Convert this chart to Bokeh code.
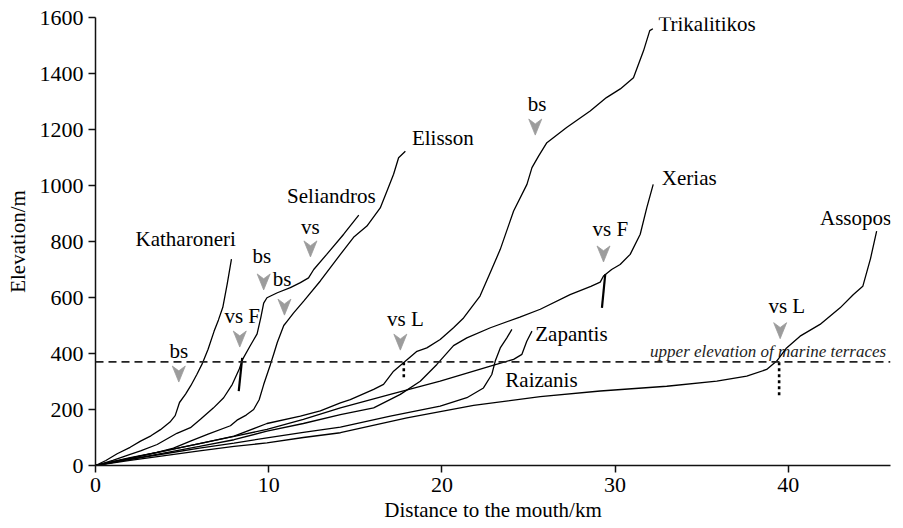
from bokeh.plotting import figure
from bokeh.models import Range1d, Span
from bokeh.embed import file_html
from bokeh.resources import INLINE
from bokeh.core.properties import value

# ---- longitudinal river profiles: distance to mouth (km) vs elevation (m) ----
katharoneri_km = [0, 0.6, 1.25, 2.0, 2.6, 3.2, 3.75, 4.3, 4.6, 4.85, 5.2, 5.5, 5.85, 6.15, 6.5, 6.85, 7.1, 7.35, 7.6, 7.85]
katharoneri_m = [0, 18, 42, 65, 87, 106, 128, 155, 178, 225, 255, 285, 325, 362, 415, 480, 520, 565, 647, 737]

seliandros_km = [0, 1.0, 2.0, 2.6, 3.56, 4.7, 5.48, 6.06, 6.8, 7.4, 7.9, 8.3, 8.5, 8.9, 9.33, 9.55, 9.71, 9.9,
                 10.5, 11.25, 11.83, 12.3, 12.6, 13.35, 14.33, 15.2]
seliandros_m = [0, 18, 40, 52, 75, 115, 135, 165, 205, 242, 290, 345, 380, 424, 470, 530, 580, 599,
                617, 635, 653, 670, 700, 754, 826, 894]

elisson_km = [0, 1.0, 2.0, 3.56, 4.5, 5.48, 6.5, 7.79, 8.17, 8.7, 9.13, 9.45, 9.71, 10.1, 10.3, 10.5, 10.87, 11.06,
              11.44, 12.02, 12.98, 14.14, 14.9, 15.67, 16.44, 16.83, 17.21, 17.5, 17.89]
elisson_m = [0, 12, 25, 47, 62, 87, 112, 142, 162, 180, 200, 235, 289, 361, 400, 440, 500, 515,
             545, 587, 659, 754, 815, 855, 920, 980, 1040, 1099, 1122]

trikalitikos_km = [0, 2, 4, 6, 8, 9.9, 11.83, 12.98, 14.14, 14.71, 16.06, 16.63, 17.21, 17.8, 18.56, 19.13, 19.9,
                   20.67, 21.25, 22.2, 22.8, 23.37, 24.14, 24.91, 25.2, 25.58, 26.06, 27.2, 28.56, 29.5, 30.3,
                   31.06, 31.64, 32.0, 32.18]
trikalitikos_m = [0, 28, 52, 78, 105, 150, 176, 195, 224, 235, 272, 290, 337, 368, 408, 420, 450,
                  492, 527, 605, 690, 772, 909, 1004, 1064, 1105, 1153, 1207, 1266, 1314, 1345,
                  1385, 1481, 1553, 1560]

xerias_km = [0, 2, 4, 6, 8, 9.9, 12, 14.14, 16.06, 17.6, 18.75, 19.71, 20.67, 21.44, 22.8, 24.5, 25.68, 27.4,
             28.6, 29.14, 29.33, 29.8, 30.29, 30.87, 31.45, 31.83, 32.2]
xerias_m = [0, 22, 45, 68, 92, 123, 150, 182, 206, 254, 301, 361, 428, 456, 492, 530, 558, 610,
            640, 655, 677, 700, 718, 754, 826, 921, 1004]

zapantis_km = [0, 2, 4, 6, 8, 9.9, 12, 14.14, 17.02, 19.9, 22.8, 24.14, 24.62, 24.9, 25.2]
zapantis_m = [0, 26, 52, 78, 104, 129, 165, 206, 254, 301, 355, 379, 397, 444, 480]

raizanis_km = [0, 2, 4, 6, 8, 9.9, 12, 14.14, 17.02, 19.9, 21.44, 22.4, 22.88, 23.08, 23.37, 23.75, 24.04]
raizanis_m = [0, 22, 42, 62, 80, 99, 118, 137, 176, 212, 242, 277, 325, 373, 420, 456, 486]

assopos_km = [0, 2, 4, 6, 8, 9.9, 12, 14.14, 17.98, 21.83, 25.68, 29.14, 32.98, 35.87, 37.6, 38.75, 39.33,
              39.9, 40.68, 41.83, 42.99, 43.76, 44.3, 44.75, 45.1]
assopos_m = [0, 18, 35, 52, 68, 81, 100, 117, 170, 215, 246, 266, 283, 301, 319, 343, 373,
             420, 462, 504, 563, 611, 640, 740, 837]

# river names and where they are written
river_names = ["Katharoneri", "Seliandros", "Elisson", "Trikalitikos", "Xerias", "Assopos", "Zapantis", "Raizanis"]
name_km = [2.31, 11.06, 18.27, 32.5, 32.7, 41.83, 25.39, 23.66]
name_m = [808, 962, 1171, 1576, 1028, 885, 468, 307]

# knickpoints: bs = bedrock step, vs F / vs L = valley step (fault / lithology)
knick_labels = ["bs", "vs F", "bs", "bs", "vs", "vs L", "bs", "vs F", "vs L"]
knick_km = [4.81, 8.33, 9.71, 10.91, 12.41, 17.6, 25.39, 29.33, 39.53]
knick_m = [298, 423, 627, 537, 745, 412, 1180, 727, 453]
knick_text_km = [4.81, 8.47, 9.6, 10.77, 12.41, 17.89, 25.49, 29.72, 39.91]
knick_text_m = [409, 534, 748, 665, 852, 525, 1292, 843, 569]

# fault crossings (solid) and lithologic contacts (dotted)
fault_km0 = [8.47, 29.43]
fault_m0 = [384, 683]
fault_km1 = [8.27, 29.24]
fault_m1 = [266, 563]
contact_km = [17.8, 39.47]
contact_top_m = [369, 369]
contact_bot_m = [308, 248]

terrace_elev = 370
x_ticks = [0, 10, 20, 30, 40]
y_ticks = [0, 200, 400, 600, 800, 1000, 1200, 1400, 1600]

X_MAX, Y_MAX = 45.9, 1600
W, H = 903, 528
LEFT, RIGHT, TOP, BOTTOM = 95, 13, 17, 63
SERIF = "Liberation Serif"

p = figure(width=W, height=H, output_backend="svg", toolbar_location=None,
           x_range=Range1d(0, X_MAX), y_range=Range1d(0, Y_MAX),
           min_border_left=LEFT, min_border_right=RIGHT, min_border_top=TOP, min_border_bottom=BOTTOM)
p.outline_line_color = None
p.grid.visible = False

for ax in (p.xaxis[0], p.yaxis[0]):
    ax.major_label_text_font = SERIF
    ax.major_label_text_font_size = "22px"
    ax.major_label_text_color = "black"
    ax.axis_label_text_font = SERIF
    ax.axis_label_text_font_size = "21px"
    ax.axis_label_text_font_style = "normal"
    ax.axis_label_text_color = "black"
    ax.axis_line_width = 1.5
    ax.axis_line_color = "#111111"
    ax.major_tick_line_width = 1.5
    ax.major_tick_line_color = "#111111"
    ax.major_tick_in = 0
    ax.major_tick_out = 7
    ax.minor_tick_line_color = None
    ax.major_label_standoff = 5

p.xaxis.ticker = x_ticks
p.yaxis.ticker = y_ticks
p.xaxis.axis_label = "Distance to the mouth/km"
p.yaxis.axis_label = "Elevation/m"
p.xaxis.axis_label_standoff = 3
p.yaxis.axis_label_standoff = 7

# terrace level
p.add_layout(Span(location=terrace_elev, dimension="width", line_color="#222222",
                  line_width=1.6, line_dash="8 5"))
p.text(x=[32.02], y=[408], text=["upper elevation of marine terraces"],
       text_font=value(SERIF), text_font_style="italic", text_font_size="17px",
       text_color="#222222", text_align="left", text_baseline="middle")

profiles = [
    (katharoneri_km, katharoneri_m), (seliandros_km, seliandros_m), (elisson_km, elisson_m),
    (trikalitikos_km, trikalitikos_m), (xerias_km, xerias_m), (zapantis_km, zapantis_m),
    (raizanis_km, raizanis_m), (assopos_km, assopos_m),
]
for xs, ys in profiles:
    p.line(xs, ys, line_color="black", line_width=1.3)

p.segment(x0=fault_km0, y0=fault_m0, x1=fault_km1, y1=fault_m1, line_color="black", line_width=2.2)
p.segment(x0=contact_km, y0=contact_top_m, x1=contact_km, y1=contact_bot_m,
          line_color="black", line_width=2.6, line_dash="3 3")

# grey arrowheads pointing down at each knickpoint (sized in screen pixels)
kx = X_MAX / (W - LEFT - RIGHT)
ky = Y_MAX / (H - TOP - BOTTOM)
aw, ah, notch = 13, 16, 0.7
arrow_xs, arrow_ys = [], []
for tx, ty in zip(knick_km, knick_m):
    arrow_xs.append([tx - aw / 2 * kx, tx, tx + aw / 2 * kx, tx])
    arrow_ys.append([ty + ah * ky, ty + ah * notch * ky, ty + ah * ky, ty])
p.patches(arrow_xs, arrow_ys, fill_color="#9c9c9c", line_color="#9c9c9c", line_width=0.8)

p.text(x=knick_text_km, y=knick_text_m, text=knick_labels, text_font=value(SERIF),
       text_font_size="21px", text_color="black", text_align="center", text_baseline="middle")

p.text(x=name_km, y=name_m, text=river_names, text_font=value(SERIF),
       text_font_size="21px", text_color="black", text_align="left", text_baseline="middle")

open("out.html", "w").write(file_html(p, INLINE))
